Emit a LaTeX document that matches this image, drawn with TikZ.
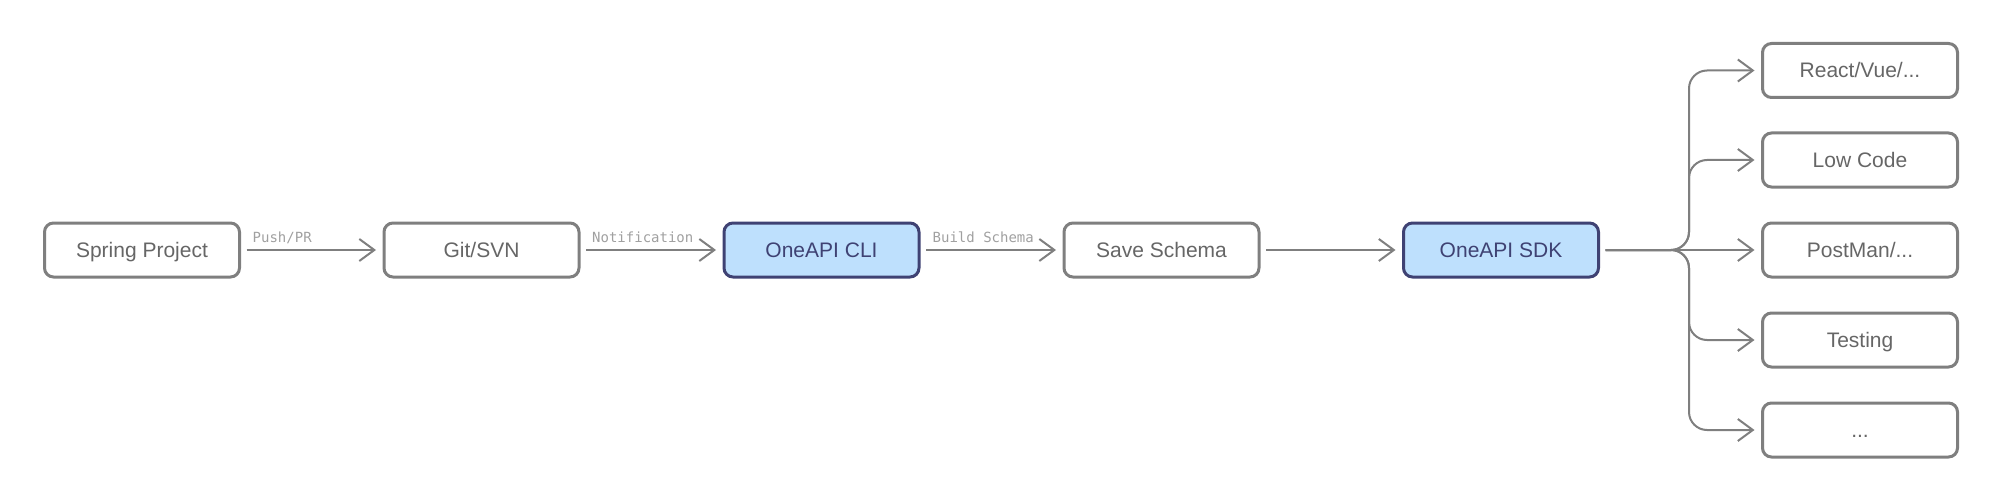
\documentclass[tikz,border=0pt]{standalone}
\usepackage{fontspec}
\setmainfont{Liberation Sans}
\newfontfamily\labelmono{DejaVu Sans Mono}
\usetikzlibrary{arrows.meta}
\definecolor{boxgray}{HTML}{7F7F7F}
\definecolor{txtgray}{HTML}{666666}
\definecolor{lblgray}{HTML}{A0A0A0}
\definecolor{bluefill}{HTML}{BEE0FD}
\definecolor{navy}{HTML}{3F4273}
\tikzset{
  box/.style={draw=boxgray, line width=3pt, rounded corners=9pt, fill=white,
    minimum width=195pt, minimum height=54pt, inner sep=0pt, outer sep=0pt,
    text height=15pt, text depth=0pt,
    text=txtgray, font=\fontsize{21}{25}\selectfont},
  hl/.style={box, draw=navy, fill=bluefill, text=navy},
  conn/.style={draw=boxgray, line width=2pt, shorten <=7pt, shorten >=8pt,
    -{Straight Barb[length=15pt,width=22pt,line width=2pt]}},
  branch/.style={conn, rounded corners=18pt},
  lbl/.style={text=lblgray, font=\labelmono\fontsize{14}{16}\selectfont, anchor=base west, inner sep=0pt}
}
\begin{document}
\begin{tikzpicture}[x=1pt,y=-1pt]
\useasboundingbox (0,0) rectangle (2000,500);
\node[box] (spring) at (142,250) {Spring Project};
\node[box] (git) at (481.5,250) {Git/SVN};
\node[hl] (cli) at (821.5,250) {OneAPI CLI};
\node[box] (save) at (1161.5,250) {Save Schema};
\node[hl] (sdk) at (1501,250) {OneAPI SDK};
\node[box] (react) at (1860,70.5) {React/Vue/...};
\node[box] (low) at (1860,160) {Low Code};
\node[box] (post) at (1860,250) {PostMan/...};
\node[box] (test) at (1860,340) {Testing};
\node[box] (etc) at (1860,430) {...};
\coordinate (j) at (1689,250);

\draw[conn] (spring) -- (git);
\draw[conn] (git) -- (cli);
\draw[conn] (cli) -- (save);
\draw[conn] (save) -- (sdk);
\draw[conn] (sdk) -- (post);
\draw[branch] (sdk.east) -- (j) |- (react.west);
\draw[branch] (sdk.east) -- (j) |- (low.west);
\draw[branch] (sdk.east) -- (j) |- (test.west);
\draw[branch] (sdk.east) -- (j) |- (etc.west);

\node[lbl] (l1) at (252.5,242) {Push/PR};
\node[lbl] (l2) at (592,242) {Notification};
\node[lbl] (l3) at (932.5,242) {Build Schema};
\end{tikzpicture}
\end{document}
